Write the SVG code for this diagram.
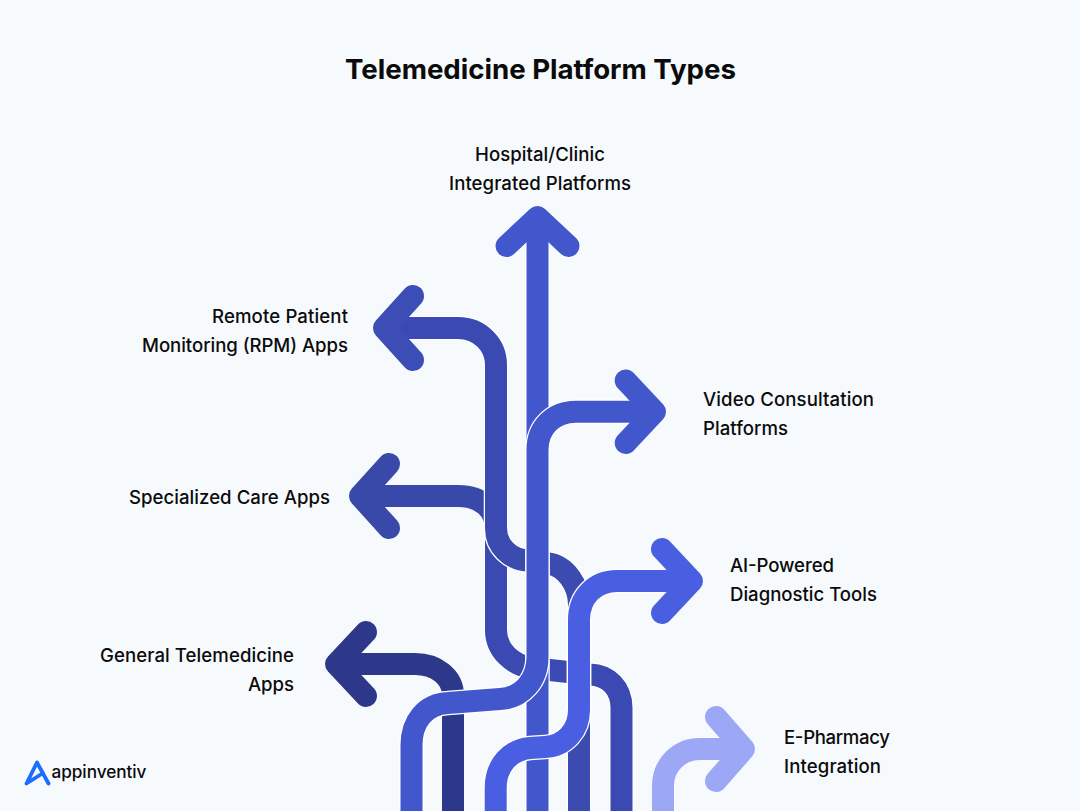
<svg xmlns="http://www.w3.org/2000/svg" width="1080" height="811" viewBox="0 0 1080 811">
<style>
.s{fill:none;stroke-width:22}
.h{fill:none;stroke:#fff;stroke-width:24.500}
.head{fill:none;stroke-width:22;stroke-linecap:round;stroke-linejoin:round}
text{font-family:Inter,"Noto Sans","Liberation Sans",sans-serif;font-size:18.6px;font-weight:550;fill:#0b0b0b}
.e{text-anchor:end}
.c{text-anchor:middle}
</style>
<rect width="1080" height="811" fill="#f6fafd"/>
<text id="title" x="540.500" y="79" class="c" style="font-size:27.700px;font-weight:700" textLength="391" fill="#000">Telemedicine Platform Types</text>
<g id="connectors">
<g id="arrow-general">
<path class="s" stroke="#2d388a" d="M453 811V695C453 677 436 664 415 664H340"/>
<path class="head" stroke="#2d388a" d="M366 632L336 664L366 696"/>
</g>
<g id="arrow-specialized-upper">
<path class="s" stroke="#3949a9" d="M496 530C496 510 482 496 458 496H365"/>
<path class="head" stroke="#3949a9" d="M389 464L360 496L389 528"/>
</g>
<g id="arrow-rpm">
<path class="h" d="M621.500 811V708C621.500 688 608 675 590 674.500L532 668C512 665 496 650 496 630V365C496 345 480 328 458 328H390"/>
<path class="s" stroke="#3a4ab2" d="M621.500 811V708C621.500 688 608 675 590 674.500L532 668C512 665 496 650 496 630V365C496 345 480 328 458 328H390"/>
<path class="head" stroke="#3c4db6" d="M413 296L384 328L413 360"/>
</g>
<g id="arrow-specialized-lower">
<path class="h" d="M496 528C496 546 510 560 530 561L548 563.500C566 566 579 585 579 605V811"/>
<path class="s" stroke="#3b4bb0" d="M496 528C496 546 510 560 530 561L548 563.500C566 566 579 585 579 605V811"/>
</g>
<g id="arrow-hospital">
<path class="h" d="M537.500 811V225"/>
<path class="s" stroke="#4357cd" d="M537.500 811V225"/>
<path class="head" stroke="#4357cd" d="M506.500 246L537.500 217L568.500 246"/>
</g>
<g id="arrow-video">
<path class="h" d="M411.500 811V745C411.500 722 425 704 448 703L500 699C522 698 537.500 680 537.500 657V450C537.500 428 553 411.700 576 411.700H650"/>
<path class="s" stroke="#4357cd" d="M411.500 811V745C411.500 722 425 704 448 703L500 699C522 698 537.500 680 537.500 657V450C537.500 428 553 411.700 576 411.700H650"/>
<path class="head" stroke="#4357cd" d="M625.700 380.500L655 411.700L625.700 443"/>
</g>
<g id="arrow-ai">
<path class="h" d="M495.700 811V788C495.700 765 510 750 530 748L545 747C565 746 579 730 579 710V620C579 597 595 581 617 581H685"/>
<path class="s" stroke="#4a5ee2" d="M495.700 811V788C495.700 765 510 750 530 748L545 747C565 746 579 730 579 710V620C579 597 595 581 617 581H685"/>
<path class="head" stroke="#4a5ee2" d="M662 549L692 581L662 613"/>
</g>
<g id="arrow-epharmacy">
<path class="s" stroke="#9ca7f6" d="M663 811V786C663 764 680 749 700 749H740"/>
<path class="head" stroke="#9ca7f6" d="M716 717L744 749L716 781"/>
</g>
</g>
<g id="node-hospital"><text x="540" y="161" class="c" textLength="130">Hospital/Clinic</text><text x="540" y="190" class="c" textLength="182">Integrated Platforms</text></g>
<g id="node-rpm"><text x="348" y="323" class="e" textLength="136">Remote Patient</text><text x="348" y="352" class="e" textLength="206">Monitoring (RPM) Apps</text></g>
<g id="node-video"><text x="703" y="406" textLength="171">Video Consultation</text><text x="703" y="435" textLength="85">Platforms</text></g>
<g id="node-specialized"><text x="330" y="504" class="e" textLength="201">Specialized Care Apps</text></g>
<g id="node-ai"><text x="730" y="572" textLength="104">AI-Powered</text><text x="730" y="601" textLength="147">Diagnostic Tools</text></g>
<g id="node-general"><text x="294" y="662" class="e" textLength="194">General Telemedicine</text><text x="294" y="691" class="e" textLength="46">Apps</text></g>
<g id="node-epharmacy"><text x="784" y="744" textLength="106">E-Pharmacy</text><text x="784" y="773" textLength="97">Integration</text></g>
<g id="logo">
<path d="M48.500 783.500L37 762.500L26.500 783.500L41.500 774" fill="none" stroke="#1a6dff" stroke-width="3.800" stroke-linecap="round" stroke-linejoin="round"/>
<text x="51.500" y="778" style="font-size:17.200px;font-weight:500" textLength="95" fill="#111">appinventiv</text>
</g>
</svg>
